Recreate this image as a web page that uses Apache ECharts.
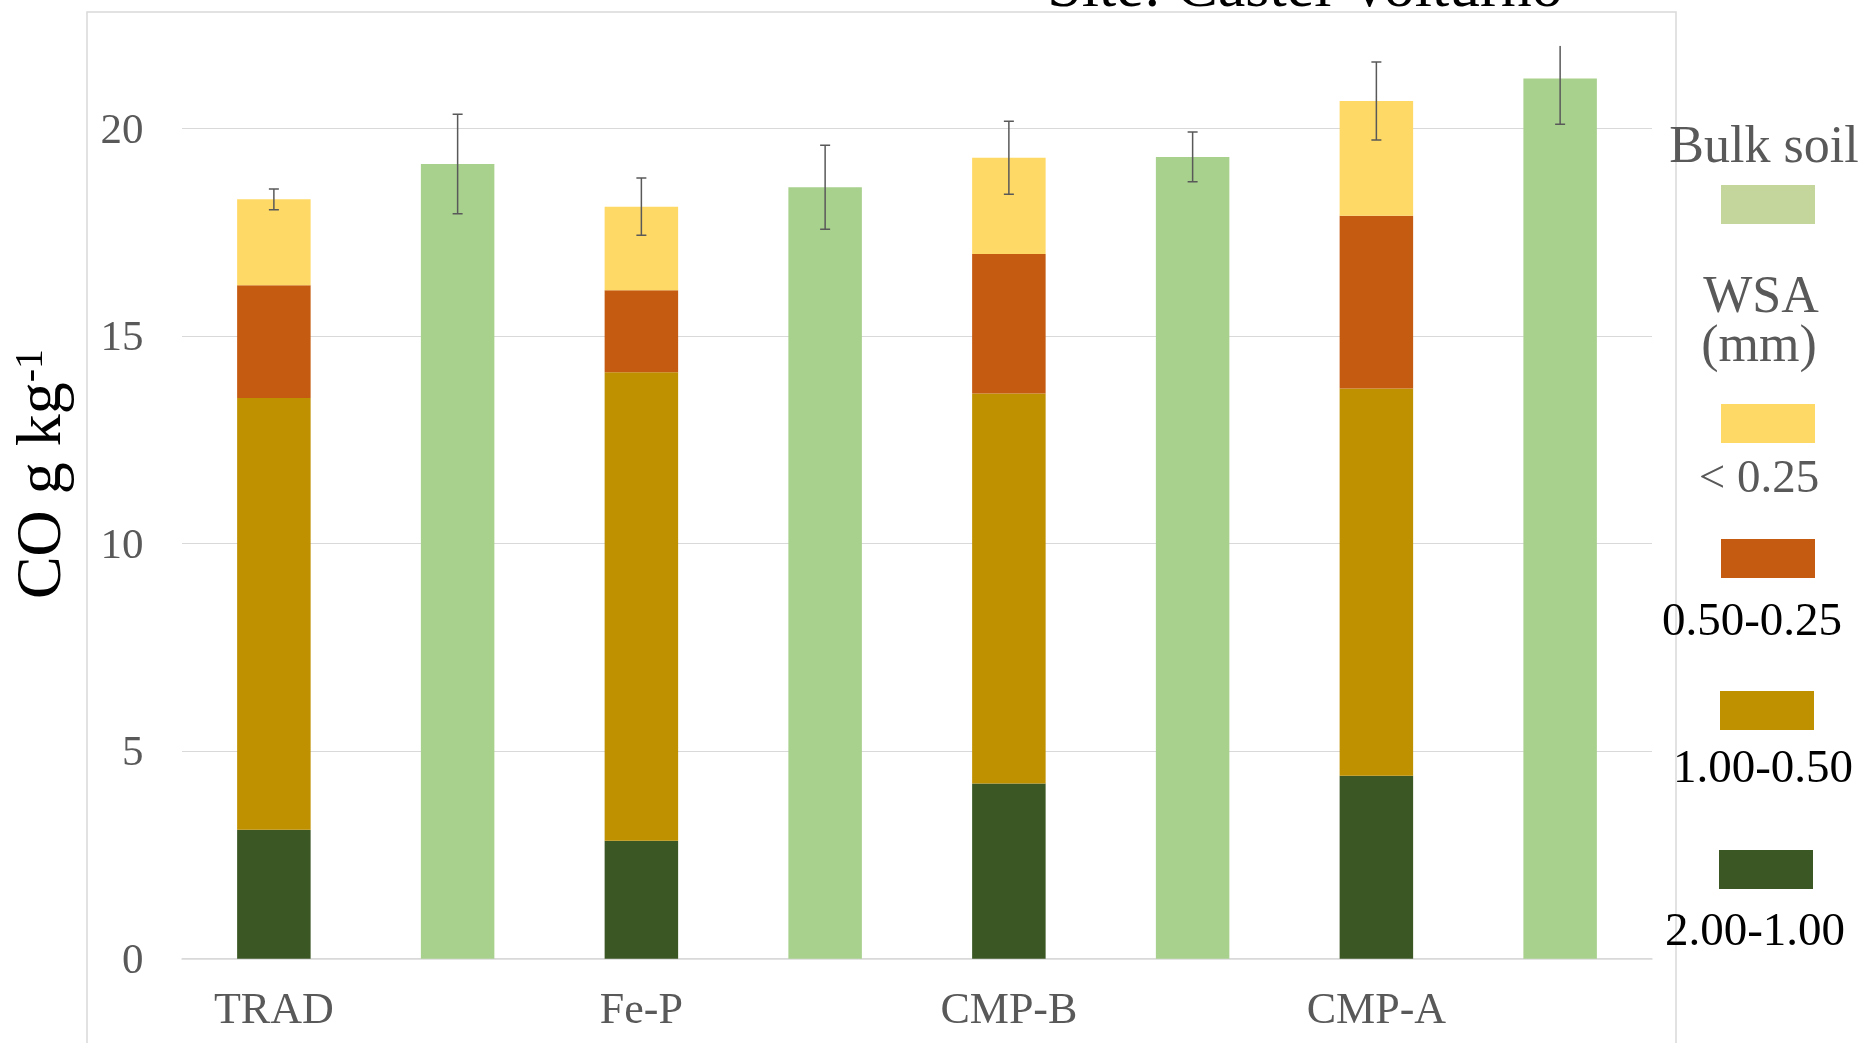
<!DOCTYPE html>
<html>
<head>
<meta charset="utf-8">
<script src="https://cdn.jsdelivr.net/npm/echarts@6/dist/echarts.min.js"></script>
<style>
  html, body { margin: 0; padding: 0; background: #ffffff; }
  #chart { width: 1867px; height: 1043px; }
</style>
</head>
<body>
<div id="chart"></div>
<script>
// Organic carbon by aggregate size class (stacked) next to bulk soil, per treatment
const groups = ['TRAD', 'Fe-P', 'CMP-B', 'CMP-A'];

// WSA fractions, g kg-1 (bottom to top of each stack)
const wsa_2_1   = [3.11, 2.84, 4.22, 4.41];
const wsa_1_05  = [10.40, 11.29, 9.40, 9.33];
const wsa_05_025 = [2.72, 1.98, 3.36, 4.16];
const wsa_lt025 = [2.07, 2.01, 2.32, 2.77];
const wsaErr    = [0.25, 0.69, 0.88, 0.94];

// Bulk soil
const bulk    = [19.15, 18.59, 19.32, 21.21];
const bulkErr = [1.20, 1.01, 0.60, 1.10];

const yTicks = [0, 5, 10, 15, 20];
const legendNames = ['Bulk soil', '< 0.25', '0.50-0.25', '1.00-0.50', '2.00-1.00'];

const colors = {
  bulk: '#A9D18E', bulkKey: '#C4D69B',
  lt025: '#FFD966', f05: '#C55A11', f1: '#BF9000', f2: '#3B5724'
};
const SERIF = "'Liberation Serif', 'Times New Roman', serif";
const GRAY = '#595959';

// Two slots per treatment: WSA stack, then bulk soil
const slots = [];
groups.forEach(g => { slots.push(g); slots.push(g + ' bulk'); });

function onWsa(arr) { const out = []; arr.forEach(v => { out.push(v); out.push(null); }); return out; }
function onBulk(arr) { const out = []; arr.forEach(v => { out.push(null); out.push(v); }); return out; }

const wsaTotal = groups.map((_, i) => wsa_2_1[i] + wsa_1_05[i] + wsa_05_025[i] + wsa_lt025[i]);
const errData = [];
groups.forEach((_, i) => {
  errData.push([2 * i, wsaTotal[i], wsaErr[i]]);
  errData.push([2 * i + 1, bulk[i], bulkErr[i]]);
});

const chart = echarts.init(document.getElementById('chart'), null, { renderer: 'canvas' });

function barSeries(name, data, color) {
  return {
    name, type: 'bar', stack: 'co', data, barWidth: '40%',
    itemStyle: { color }, emphasis: { disabled: true }, animation: false
  };
}

function label(text, x, y, size, fill) {
  return { type: 'text', style: { text, x, y, textAlign: 'center', textVerticalAlign: 'middle', verticalAlign: 'middle', font: size + 'px ' + SERIF, fill } };
}

// legend drawn as keys with labels beneath
const keyX = 1721, keyW = 94, keyH = 39;
const legendGraphics = [
  label(legendNames[0], 1764, 148, 52, GRAY),
  { type: 'rect', shape: { x: keyX, y: 185, width: keyW, height: keyH }, style: { fill: colors.bulkKey } },
  label('WSA', 1761, 298, 52, GRAY),
  label('(mm)', 1759, 347, 52, GRAY),
  { type: 'rect', shape: { x: keyX, y: 404, width: keyW, height: keyH }, style: { fill: colors.lt025 } },
  label(legendNames[1], 1759, 480, 47, GRAY),
  { type: 'rect', shape: { x: keyX, y: 539, width: keyW, height: keyH }, style: { fill: colors.f05 } },
  label(legendNames[2], 1752, 623, 47, '#000'),
  { type: 'rect', shape: { x: 1720, y: 691, width: keyW, height: keyH }, style: { fill: colors.f1 } },
  label(legendNames[3], 1763, 770, 47, '#000'),
  { type: 'rect', shape: { x: 1719, y: 850, width: keyW, height: keyH }, style: { fill: colors.f2 } },
  label(legendNames[4], 1755, 933, 47, '#000')
];

const option = {
  animation: false,
  backgroundColor: '#ffffff',
  grid: { left: 182, right: 215, top: 45.7, bottom: 84.3, containLabel: false },
  xAxis: {
    type: 'category',
    data: slots,
    axisTick: { show: false },
    axisLine: { lineStyle: { color: '#D9D9D9', width: 1.5 } },
    axisLabel: {
      interval: 0, margin: 31, color: GRAY, fontSize: 44, fontFamily: SERIF,
      formatter: (v, i) => (i % 2 === 0 ? v : '')
    }
  },
  yAxis: {
    type: 'value', min: 0, max: 22, interval: 5,
    axisLine: { show: false }, axisTick: { show: false },
    axisLabel: {
      margin: 38.5,
      formatter: v => (yTicks.indexOf(v) >= 0 ? '{t|' + v + '}' : ''),
      rich: { t: { color: GRAY, fontSize: 43, fontFamily: SERIF, padding: [6, 0, 0, 0] } }
    },
    splitLine: { lineStyle: { color: ['#D9D9D9', '#D9D9D9', '#D9D9D9', '#D9D9D9', '#D9D9D9', 'rgba(0,0,0,0)'], width: 1.2 } }
  },
  series: [
    barSeries(legendNames[4], onWsa(wsa_2_1), colors.f2),
    barSeries(legendNames[3], onWsa(wsa_1_05), colors.f1),
    barSeries(legendNames[2], onWsa(wsa_05_025), colors.f05),
    barSeries(legendNames[1], onWsa(wsa_lt025), colors.lt025),
    barSeries(legendNames[0], onBulk(bulk), colors.bulk),
    {
      name: 'sd', type: 'custom', data: errData, clip: true, z: 10,
      renderItem: function (params, api) {
        const x = api.value(0), c = api.value(1), e = api.value(2);
        const top = api.coord([x, c + e]);
        const bot = api.coord([x, c - e]);
        const yMaxPx = api.coord([x, 22])[1];
        const hw = 5;
        const style = { stroke: GRAY, lineWidth: 1.5 };
        const kids = [
          { type: 'line', shape: { x1: top[0], y1: Math.max(top[1], yMaxPx), x2: bot[0], y2: bot[1] }, style },
          { type: 'line', shape: { x1: bot[0] - hw, y1: bot[1], x2: bot[0] + hw, y2: bot[1] }, style }
        ];
        if (top[1] >= yMaxPx) {
          kids.push({ type: 'line', shape: { x1: top[0] - hw, y1: top[1], x2: top[0] + hw, y2: top[1] }, style });
        }
        return { type: 'group', children: kids };
      }
    }
  ],
  graphic: [
    // chart area frame
    { type: 'rect', z: -1, silent: true, shape: { x: 87, y: 12, width: 1589, height: 1100 }, style: { fill: 'none', stroke: '#D9D9D9', lineWidth: 1.5 } },
    // site title
    label('Site: Castel Volturno', 1305, -10, 62, '#000'),
    // y axis title
    {
      type: 'text', x: 43, y: 474, rotation: Math.PI / 2,
      style: {
        text: '{a|CO g kg}{b|-1}', textAlign: 'center', textVerticalAlign: 'middle', verticalAlign: 'middle',
        rich: {
          a: { fontSize: 64, fontFamily: SERIF, fill: '#000', color: '#000' },
          b: { fontSize: 40, fontFamily: SERIF, fill: '#000', color: '#000', verticalAlign: 'top' }
        }
      }
    }
  ].concat(legendGraphics)
};

chart.setOption(option);
</script>
</body>
</html>
